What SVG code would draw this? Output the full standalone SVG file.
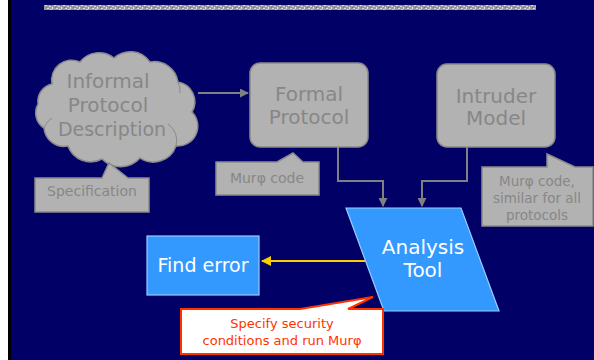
<svg xmlns="http://www.w3.org/2000/svg" width="594" height="360" viewBox="0 0 594 360">
<defs>
<style>
.g{fill:#b2b2b2;stroke:#8a8a8a;stroke-width:1.5}
.gt{fill:#878787;font-family:"DejaVu Sans",sans-serif;text-anchor:middle}
.b{fill:#3399ff;stroke:#99ccff;stroke-width:1.2}
.wt{fill:#ffffff;font-family:"DejaVu Sans",sans-serif;text-anchor:middle}
.rt{fill:#ff3300;font-family:"DejaVu Sans",sans-serif;text-anchor:middle}
.c{fill:none;stroke:#808080;stroke-width:2}
</style>
<marker id="ag" viewBox="0 0 10 10" refX="9" refY="5" markerWidth="4.5" markerHeight="4.5" orient="auto" markerUnits="strokeWidth"><path d="M0,0 L10,5 L0,10 Z" fill="#808080"/></marker>
<marker id="ay" viewBox="0 0 10 10" refX="9" refY="5" markerWidth="5" markerHeight="5" orient="auto" markerUnits="strokeWidth"><path d="M0,0 L10,5 L0,10 Z" fill="#ffcc00"/></marker>
<pattern id="tex" width="9" height="5" patternUnits="userSpaceOnUse">
<rect width="9" height="5" fill="#9a9a9a"/>
<rect x="0" y="0" width="2" height="1" fill="#e0e0e0"/>
<rect x="4" y="1" width="2" height="1" fill="#d6d6d6"/>
<rect x="7" y="2" width="1" height="2" fill="#e8e8e8"/>
<rect x="2" y="3" width="2" height="1" fill="#dcdcdc"/>
<rect x="5" y="4" width="2" height="1" fill="#cfcfcf"/>
<rect x="1" y="2" width="1" height="1" fill="#6e6e6e"/>
<rect x="6" y="0" width="1" height="1" fill="#707070"/>
</pattern>
</defs>
<rect x="0" y="0" width="594" height="360" fill="#000066"/>
<rect x="0" y="0" width="8" height="360" fill="#ffffff"/>
<rect x="8" y="0" width="3" height="360" fill="#000000"/>
<rect x="44" y="5" width="492" height="5" fill="url(#tex)"/>

<g id="connectors">
<path class="c" d="M198,93 H248" marker-end="url(#ag)"/>
<path class="c" d="M338,147 V181 H383 V206" marker-end="url(#ag)"/>
<path class="c" d="M467,147 V181 H422 V206" marker-end="url(#ag)"/>
<path d="M365,261 H262" fill="none" stroke="#ffcc00" stroke-width="2" marker-end="url(#ay)"/>
</g>

<g id="informal">
<path class="g" d="M52,84 A20,20 0 0 1 80,62 A24,24 0 0 1 114,58 A24,24 0 0 1 150,62 A24,24 0 0 1 178,82 A20,20 0 0 1 192,112 A20,20 0 0 1 176,146 A24,24 0 0 1 140,158 A26,26 0 0 1 102,159 A24,24 0 0 1 68,146 A20,20 0 0 1 44,128 A18,18 0 0 1 38,104 A18,18 0 0 1 52,84 Z"/>
<path d="M178,82 A22,22 0 0 1 180,93 M176,146 A20,20 0 0 0 168,124 M44,128 A18,18 0 0 1 52,118" fill="none" stroke="#8a8a8a" stroke-width="1"/>
<text class="gt" x="108" y="88" font-size="20">Informal</text>
<text class="gt" x="108" y="112" font-size="20">Protocol</text>
<text class="gt" x="112" y="136" font-size="19">Description</text>
</g>

<g id="spec">
<path class="g" d="M35,178 H102 L109,163 L128,178 H149 V212 H35 Z"/>
<text class="gt" x="92" y="196" font-size="14">Specification</text>
</g>

<g id="formal">
<rect class="g" x="250" y="63" width="118" height="84" rx="10"/>
<text class="gt" x="309" y="101" font-size="20">Formal</text>
<text class="gt" x="309" y="124" font-size="20">Protocol</text>
</g>

<g id="murcode">
<path class="g" d="M216,162 H277 L293,153 L303,162 H319 V195 H216 Z"/>
<text class="gt" x="267" y="183" font-size="14">Murφ code</text>
</g>

<g id="intruder">
<rect class="g" x="437" y="64" width="118" height="83" rx="10"/>
<text class="gt" x="496" y="103" font-size="20">Intruder</text>
<text class="gt" x="496" y="125" font-size="20">Model</text>
</g>

<g id="intrudernote">
<path class="g" d="M482,167 H547 V154 L575,167 H593 V226 H482 Z"/>
<text class="gt" x="537" y="186" font-size="13.5">Murφ code,</text>
<text class="gt" x="537" y="203" font-size="13.5">similar for all</text>
<text class="gt" x="537" y="220" font-size="13.5">protocols</text>
</g>

<g id="analysis">
<path class="b" d="M346,208 H461 L499,311 H384 Z"/>
<text class="wt" x="423" y="254" font-size="20">Analysis</text>
<text class="wt" x="423" y="277" font-size="20">Tool</text>
</g>

<g id="finderror">
<rect class="b" x="147" y="236" width="112" height="59"/>
<text class="wt" x="203" y="272" font-size="19">Find error</text>
</g>

<g id="runmurphi">
<path d="M181,309 H300 L373,297 L348,309 H383 V354 H181 Z" fill="#ffffff" stroke="#ff3300" stroke-width="2"/>
<text class="rt" x="282" y="328" font-size="13">Specify security</text>
<text class="rt" x="282" y="345" font-size="13">conditions and run Murφ</text>
</g>
</svg>
